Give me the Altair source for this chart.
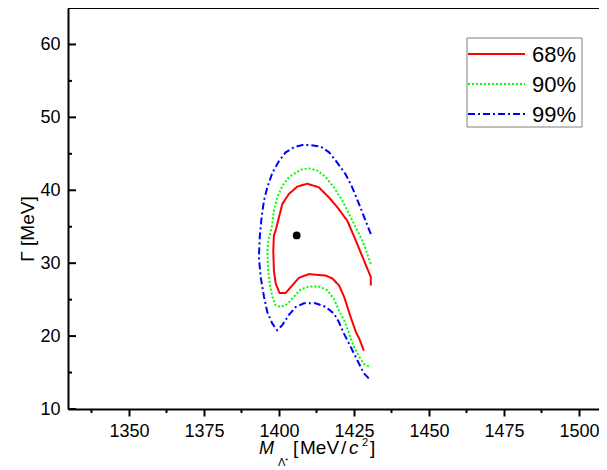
import altair as alt
import pandas as pd

# ---- data ----
x68 = [1430.6, 1430.6, 1428.3, 1425.6, 1422.8, 1419.4, 1416.7, 1413.3, 1409.4, 1406.1, 1403.3,
       1401.1, 1400.0, 1398.9, 1398.3, 1398.1, 1398.3, 1398.9, 1400.2, 1402.2, 1404.4, 1406.7,
       1410.0, 1415.6, 1417.8, 1420.0, 1421.7, 1422.8, 1423.9, 1425.0, 1425.6, 1426.7, 1428.3]
y68 = [26.95, 28.1, 30.4, 33.1, 35.8, 37.7, 39.0, 40.4, 40.9, 40.5, 39.5,
       38.1, 36.3, 34.5, 33.8, 31.7, 29.0, 27.2, 25.9, 25.9, 26.95, 28.0,
       28.5, 28.3, 27.9, 26.95, 25.4, 24.0, 22.6, 21.3, 20.6, 19.7, 18.0]

x90 = [1430.6, 1429.4, 1427.8, 1425.6, 1423.3, 1421.1, 1418.3, 1415.6, 1412.8, 1410.0, 1407.8,
       1405.6, 1403.3, 1401.1, 1399.4, 1398.3, 1397.6, 1396.7, 1396.1, 1396.4, 1396.9, 1397.8,
       1398.9, 1400.6, 1402.8, 1405.0, 1407.2, 1410.0, 1413.3, 1416.1, 1418.3, 1420.0, 1421.7,
       1422.8, 1423.9, 1425.0, 1426.7, 1428.3, 1430.0]
y90 = [29.9, 31.3, 33.1, 34.9, 36.8, 38.6, 40.4, 41.8, 42.7, 43.0, 42.9,
       42.4, 41.8, 40.6, 39.0, 37.2, 34.9, 33.6, 31.7, 29.0, 27.2, 25.4,
       24.2, 24.0, 24.4, 25.4, 26.4, 26.8, 26.8, 26.3, 25.1, 23.5, 22.2,
       21.0, 19.7, 18.5, 17.2, 16.2, 15.8]

x99 = [1430.6, 1428.9, 1426.7, 1424.4, 1422.2, 1419.4, 1416.7, 1413.9, 1410.6, 1407.8, 1405.0,
       1402.2, 1400.0, 1397.8, 1396.1, 1395.0, 1394.2, 1393.6, 1393.3, 1393.9, 1395.0, 1396.1,
       1397.8, 1399.4, 1401.1, 1403.3, 1405.6, 1408.3, 1412.2, 1415.6, 1418.3, 1420.0, 1421.7,
       1423.3, 1425.0, 1426.7, 1428.3, 1430.6]
y99 = [34.0, 35.8, 38.1, 40.4, 42.2, 43.8, 45.2, 46.0, 46.2, 46.2, 45.9,
       45.2, 44.0, 42.4, 40.4, 38.6, 36.3, 33.6, 30.8, 28.1, 25.4, 23.3,
       21.7, 20.8, 21.5, 22.9, 24.0, 24.5, 24.5, 24.0, 23.1, 21.9, 20.3,
       19.0, 17.6, 16.2, 14.9, 13.9]

best_x = [1405.9]
best_y = [33.8]

levels = ["68%", "90%", "99%"]
x_major = [1350, 1375, 1400, 1425, 1450, 1475, 1500]
x_minor = [1337.5, 1362.5, 1387.5, 1412.5, 1437.5, 1462.5, 1487.5]
y_major = [10, 20, 30, 40, 50, 60]
y_minor = [15, 25, 35, 45, 55, 65]

# ---- layout ----
W, H = 531, 401
FONT = "Liberation Sans"
colors = ["#ff0000", "#00ff00", "#0000ff"]
dashes = [[1, 0], [2, 2], [7, 3, 2, 3]]

X0 = 1329.67
xscale = alt.Scale(domain=[X0, X0 + W / 3.0], nice=False, zero=False)
yscale = alt.Scale(domain=[10, 65], nice=False, zero=False)

xaxis = alt.Axis(values=x_major, format="d", title=None, grid=False, tickSize=7, tickWidth=2,
                 tickColor="black", domainColor="black", domainWidth=2,
                 labelFont=FONT, labelFontSize=18, labelColor="black", labelPadding=6)
yaxis = alt.Axis(values=y_major, format="d", title=None, grid=False, ticks=False,
                 domainColor="black", domainWidth=2,
                 labelFont=FONT, labelFontSize=18, labelColor="black", labelPadding=8)


def X(field="M:Q"):
    return alt.X(field, scale=xscale, axis=xaxis)


def Y(field="G:Q"):
    return alt.Y(field, scale=yscale, axis=yaxis)


curves = [(x68, y68), (x90, y90), (x99, y99)]
layers = []
for i, (xs, ys) in enumerate(curves):
    d = pd.DataFrame({"M": xs, "G": ys, "i": list(range(len(xs)))})
    layers.append(alt.Chart(d).mark_line(color=colors[i], strokeDash=dashes[i],
                                          strokeWidth=2).encode(x=X(), y=Y(), order="i:Q"))

pt = alt.Chart(pd.DataFrame({"M": best_x, "G": best_y})).mark_point(
    filled=True, color="black", size=60, opacity=1).encode(x=X(), y=Y())
layers.append(pt)

# inward y ticks, outward minor x ticks
ymaj = alt.Chart(pd.DataFrame({"G": y_major})).mark_rule(color="black", strokeWidth=2).encode(
    y=Y(), x=alt.value(0), x2=alt.value(8))
ymin = alt.Chart(pd.DataFrame({"G": y_minor})).mark_rule(color="black", strokeWidth=2).encode(
    y=Y(), x=alt.value(0), x2=alt.value(4))
xmin = alt.Chart(pd.DataFrame({"M": x_minor})).mark_rule(color="black", strokeWidth=2).encode(
    x=X(), y=alt.value(H), y2=alt.value(H + 4))
layers += [ymaj, ymin, xmin]

one = pd.DataFrame({"k": [0]})
# top frame line
layers.append(alt.Chart(one).mark_rule(color="black", strokeWidth=2).encode(
    x=alt.value(0), x2=alt.value(W), y=alt.value(0)))

# legend
lx0, lx1, ly0, ly1 = 399, 514, 30, 119
layers.append(alt.Chart(one).mark_rect(fillOpacity=0, stroke="#808080", strokeWidth=1).encode(
    x=alt.value(lx0), x2=alt.value(lx1), y=alt.value(ly0), y2=alt.value(ly1)))
for i, lev in enumerate(levels):
    ry = 46 + 30 * i
    layers.append(alt.Chart(one).mark_rule(color=colors[i], strokeDash=dashes[i], strokeWidth=2).encode(
        x=alt.value(lx0 + 1), x2=alt.value(457), y=alt.value(ry)))
    layers.append(alt.Chart(one).mark_text(font=FONT, fontSize=22, align="left",
                                           baseline="alphabetic", color="black").encode(
        x=alt.value(464), y=alt.value(ry + 8), text=alt.value(lev)))


# axis titles as text pieces (plot-area pixel offsets; plot origin is page (68, 8))
def txt(s, x, y, size, italic=False, angle=0, align="left"):
    kw = dict(font=FONT, fontSize=size, align=align, baseline="alphabetic", color="black")
    if italic:
        kw["fontStyle"] = "italic"
    if angle:
        kw["angle"] = angle
    return alt.Chart(one).mark_text(**kw).encode(x=alt.value(x), y=alt.value(y), text=alt.value(s))


TB = 446
layers += [
    txt("M", 191, TB, 18, italic=True),
    txt("Λ", 210, TB + 12, 11),
    txt("*", 217, TB + 9, 8),
    txt("[", 225, TB, 19),
    txt("MeV", 232, TB, 19),
    txt("/", 273, TB, 19),
    txt("c", 281, TB, 19, italic=True),
    txt("2", 294, TB - 8, 11),
    txt("]", 302, TB, 19),
    txt("Γ [MeV]", -34, 221, 19, angle=270, align="center"),
]

chart = alt.layer(*layers).properties(
    width=W, height=H,
    autosize=alt.AutoSizeParams(type="none"),
    padding={"left": 60, "top": 0, "right": 0, "bottom": 61},
).configure_view(stroke=None)

chart.save("out.html", embed_options={"renderer": "svg", "actions": False})
